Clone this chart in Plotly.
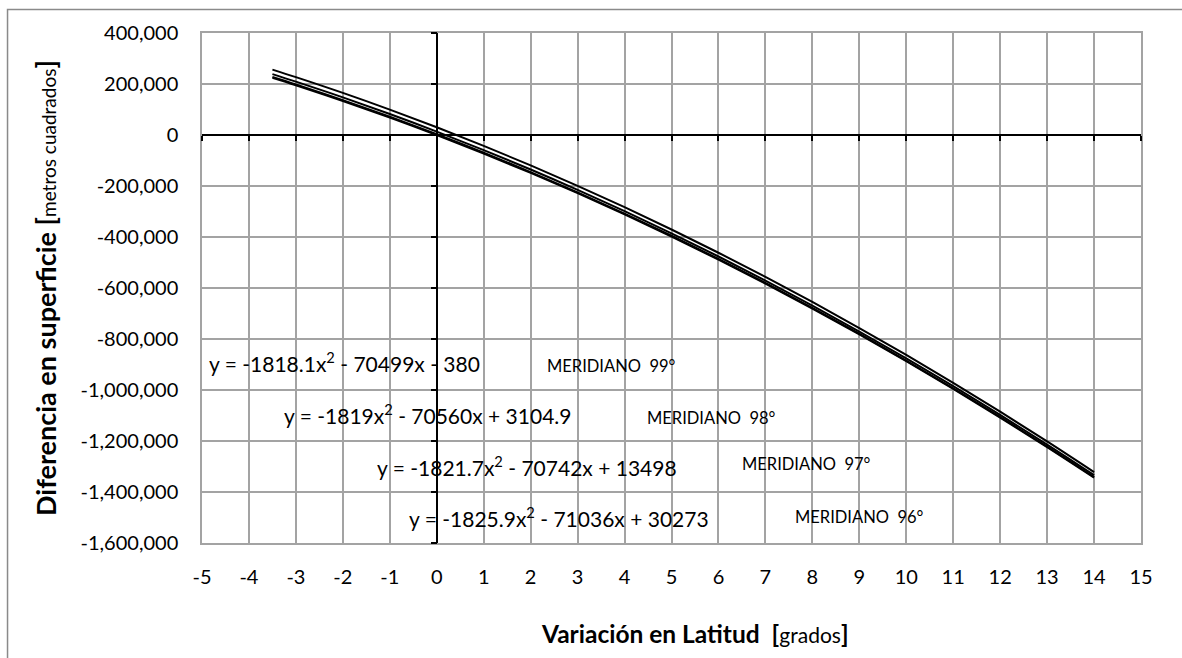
import plotly.graph_objects as go

# Variación en latitud (grados)
lat = [-3.5, -3, -2, -1, 0, 1, 2, 3, 4, 5, 6, 7, 8, 9, 10, 11, 12, 13, 14]

# Diferencia en superficie (metros cuadrados)
m99 = [224095, 194754, 133346, 68301, -380, -72697, -148650, -228240, -311466, -398328,
       -488826, -582960, -680730, -782137, -887180, -995859, -1108174, -1224126, -1343714]
m98 = [227782, 198414, 136949, 71846, 3105, -69274, -145291, -224946, -308239, -395170,
       -485739, -579946, -677791, -779274, -884395, -993154, -1105551, -1221586, -1341259]
m97 = [238779, 209329, 147695, 82418, 13498, -59066, -135273, -215123, -298617, -385755,
       -476535, -570959, -669027, -770738, -876092, -985090, -1097731, -1214015, -1333943]
m96 = [256532, 226948, 165041, 99483, 30273, -42589, -119103, -199268, -283085, -370555,
       -461675, -556448, -654873, -756949, -862677, -972057, -1085089, -1201772, -1322107]

series = [("MERIDIANO 99°", m99), ("MERIDIANO 98°", m98), ("MERIDIANO 97°", m97), ("MERIDIANO 96°", m96)]

equations = [
    "y = -1818.1x<sup>2</sup> - 70499x - 380",
    "y = -1819x<sup>2</sup> - 70560x + 3104.9",
    "y = -1821.7x<sup>2</sup> - 70742x + 13498",
    "y = -1825.9x<sup>2</sup> - 71036x + 30273",
]
labels = ["MERIDIANO&nbsp; 99°", "MERIDIANO&nbsp; 98°", "MERIDIANO&nbsp; 97°", "MERIDIANO&nbsp; 96°"]

x_ticks = list(range(-5, 16))
x_tick_text = [str(v) for v in x_ticks]
y_ticks = list(range(-1600000, 400001, 200000))
y_tick_text = [f"{v:,}" for v in y_ticks]

FONT = "Lato"
fig = go.Figure()
for name, vals in series:
    fig.add_trace(go.Scatter(x=lat, y=vals, mode="lines", name=name,
                             line=dict(color="black", width=2, shape="spline"),
                             showlegend=False))

# helper trace for the axes crossing at zero
fig.add_trace(go.Scatter(x=[None], y=[None], xaxis="x2", yaxis="y2", showlegend=False))

grid = "#a3a3a3"
fig.update_layout(
    width=1182, height=658,
    margin=dict(l=202, r=41, t=33, b=115),
    paper_bgcolor="white", plot_bgcolor="white",
    font=dict(family=FONT, color="black", size=18),
    xaxis=dict(range=[-5, 15], tickvals=x_ticks, ticktext=x_tick_text,
               showgrid=True, gridcolor=grid, gridwidth=1.5,
               zeroline=True, zerolinecolor="black", zerolinewidth=1.8,
               showline=True, linecolor=grid, linewidth=1.5, mirror=True,
               ticks="outside", ticklen=15, tickcolor="rgba(0,0,0,0)",
               tickfont=dict(size=20, family=FONT)),
    yaxis=dict(range=[-1600000, 400000], tickvals=y_ticks, ticktext=y_tick_text,
               showgrid=True, gridcolor=grid, gridwidth=1.5,
               zeroline=True, zerolinecolor="black", zerolinewidth=1.8,
               showline=True, linecolor=grid, linewidth=1.5, mirror=True,
               ticks="outside", ticklen=18, tickcolor="rgba(0,0,0,0)",
               tickfont=dict(size=20, family=FONT)),
    xaxis2=dict(overlaying="x", anchor="free", position=0.8, side="bottom",
                range=[-5, 15], tickvals=x_ticks, showticklabels=False,
                showgrid=False, zeroline=False, showline=False,
                ticks="outside", ticklen=5, tickwidth=1.8, tickcolor="black"),
    yaxis2=dict(overlaying="y", anchor="free", position=0.25, side="left",
                range=[-1600000, 400000], tickvals=y_ticks, showticklabels=False,
                showgrid=False, zeroline=False, showline=False,
                ticks="outside", ticklen=6, tickwidth=1.8, tickcolor="black"),
)

eq_pos = [(0.0053, 0.355), (0.0852, 0.253), (0.1842, 0.151), (0.2183, 0.051)]
lab_pos = [(0.365, 0.347), (0.4718, 0.245), (0.573, 0.155), (0.629, 0.051)]
for txt, (px, py) in zip(equations, eq_pos):
    fig.add_annotation(text=txt, x=px, y=py, xref="paper", yref="paper",
                       xanchor="left", yanchor="middle", showarrow=False,
                       font=dict(size=21, family=FONT))
for txt, (px, py) in zip(labels, lab_pos):
    fig.add_annotation(text=txt, x=px, y=py, xref="paper", yref="paper",
                       xanchor="left", yanchor="middle", showarrow=False,
                       font=dict(size=16.5, family=FONT))

fig.add_annotation(text="<b>Variación en Latitud&nbsp; [</b><span style='font-size:21px'>grados</span><b>]</b>",
                   x=0.525, y=-0.178, xref="paper", yref="paper", showarrow=False,
                   xanchor="center", yanchor="middle", font=dict(size=24.5, family=FONT))
fig.add_annotation(text="<b>Diferencia en superficie [</b><span style='font-size:19px'>metros cuadrados</span><b>]</b>",
                   x=-0.1672, y=0.5, xref="paper", yref="paper", showarrow=False, textangle=-90,
                   xanchor="center", yanchor="middle", font=dict(size=27, family=FONT))

# chart frame
fig.add_shape(type="rect", xref="paper", yref="paper",
              x0=-0.2071, y0=-0.26, x1=1.06, y1=1.0461,
              line=dict(color="#8a8a8a", width=1.5), fillcolor="rgba(0,0,0,0)", layer="below")

fig.write_html("out.html")
